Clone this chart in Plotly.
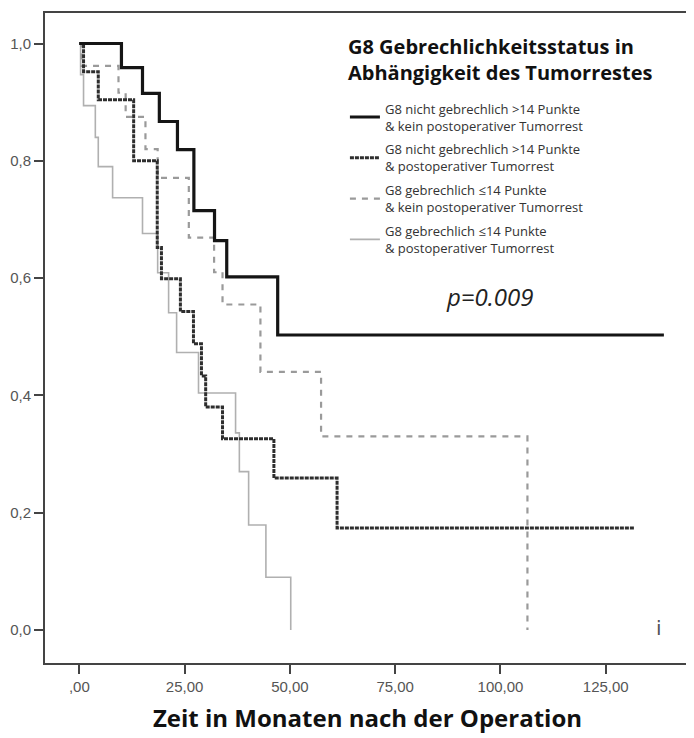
import plotly.graph_objects as go

# ---- data ----
black_t = [0, 10, 15, 19, 23.3, 27.2, 32.1, 35, 47.1, 138.8]
black_s = [1.0, 0.959, 0.915, 0.867, 0.819, 0.715, 0.664, 0.602, 0.503, 0.503]

darkdash_t = [0, 1, 4.5, 12.9, 18.5, 19.5, 24, 27.1, 29, 30, 34, 46.2, 61.2, 131.9]
darkdash_s = [1.0, 0.952, 0.904, 0.80, 0.652, 0.599, 0.543, 0.488, 0.433, 0.380, 0.326, 0.259, 0.174, 0.174]

lightdash_t = [0, 0.5, 9.3, 11, 15.7, 18.6, 26, 32, 34, 43, 57.4, 106.4]
lightdash_s = [1.0, 0.962, 0.916, 0.875, 0.82, 0.771, 0.669, 0.61, 0.555, 0.44, 0.33, 0.0]

gray_t = [0, 0.3, 1, 3.8, 4.5, 7.9, 15, 18.6, 21.2, 23.1, 28.3, 37.1, 38, 40.2, 44.3, 50.2]
gray_s = [1.0, 0.947, 0.894, 0.84, 0.79, 0.737, 0.676, 0.609, 0.541, 0.473, 0.404, 0.336, 0.27, 0.179, 0.09, 0.0]

names = [
    "G8 nicht gebrechlich >14 Punkte<br>& kein postoperativer Tumorrest",
    "G8 nicht gebrechlich >14 Punkte<br>& postoperativer Tumorrest",
    "G8 gebrechlich ≤14 Punkte<br>& kein postoperativer Tumorrest",
    "G8 gebrechlich ≤14 Punkte<br>& postoperativer Tumorrest",
]

x_ticks = [0, 25, 50, 75, 100, 125]
x_ticklabels = [",00", "25,00", "50,00", "75,00", "100,00", "125,00"]
y_ticks = [0.0, 0.2, 0.4, 0.6, 0.8, 1.0]
y_ticklabels = ["0,0", "0,2", "0,4", "0,6", "0,8", "1,0"]

title_lines = "G8 Gebrechlichkeitsstatus in<br>Abhängigkeit des Tumorrestes"
x_title = "Zeit in Monaten nach der Operation"
p_text = "<i>p=0.009</i>"
p_x, p_y = 97.5, 0.568
censor_x, censor_y = 137.6, 0.0

fig = go.Figure()

fig.add_trace(go.Scatter(x=gray_t, y=gray_s, mode="lines", line_shape="hv",
                         line=dict(color="#b0b0b0", width=1.6),
                         name=names[3], legendrank=4, legendgroup="g4"))
fig.add_trace(go.Scatter(x=lightdash_t, y=lightdash_s, mode="lines", line_shape="hv",
                         line=dict(color="#9a9a9a", width=2.2, dash="6px,6px"),
                         name=names[2], legendrank=3, legendgroup="g3"))
fig.add_trace(go.Scatter(x=darkdash_t, y=darkdash_s, mode="lines", line_shape="hv",
                         line=dict(color="#2e2e2e", width=3, dash="4px,1px"),
                         name=names[1], legendrank=2, legendgroup="g2"))
fig.add_trace(go.Scatter(x=black_t, y=black_s, mode="lines", line_shape="hv",
                         line=dict(color="#151515", width=3.2),
                         name=names[0], legendrank=1, legendgroup="g1"))

fig.add_annotation(x=p_x, y=p_y, text=p_text, showarrow=False, xref="x", yref="y",
                   font=dict(family="Open Sans", size=24, color="#222"))
fig.add_annotation(x=censor_x, y=censor_y, text="i", showarrow=False, xref="x", yref="y",
                   yanchor="middle", yshift=2,
                   font=dict(family="DejaVu Sans", size=20, color="#555"))
fig.add_annotation(x=0.466, y=0.973, xref="paper", yref="paper",
                   xanchor="left", yanchor="top", align="left", showarrow=False,
                   text=f"<b>{title_lines}</b>",
                   font=dict(family="Open Sans", size=20, color="#111"))

axis_common = dict(showline=True, linecolor="#444", linewidth=2, mirror=True,
                   showgrid=False, zeroline=False, ticks="outside", ticklen=9,
                   tickwidth=2, tickcolor="#444", automargin=False,
                   tickfont=dict(family="Arial", size=15, color="#555"))

fig.update_xaxes(range=[-8.15, 145.0], tickvals=x_ticks, ticktext=x_ticklabels,
                 title=dict(text=f"<b>{x_title}</b>", standoff=16,
                            font=dict(family="Open Sans", size=24, color="#111")),
                 **axis_common)
fig.update_yaxes(range=[-0.0563, 1.052], tickvals=y_ticks, ticktext=y_ticklabels,
                 **axis_common)

# page body has an 8px margin: figure is 686x730 so it fits the 694x738 window
fig.update_layout(
    width=686, height=730,
    margin=dict(l=37, r=4, t=5, b=75, autoexpand=False),
    paper_bgcolor="white", plot_bgcolor="white",
    showlegend=True,
    legend=dict(
        x=0.465, y=0.876, xanchor="left", yanchor="top",
        bgcolor="rgba(0,0,0,0)",
        font=dict(family="Open Sans", size=13, color="#333"),
        itemwidth=30, tracegroupgap=4,
    ),
)

fig.write_html("out.html")
